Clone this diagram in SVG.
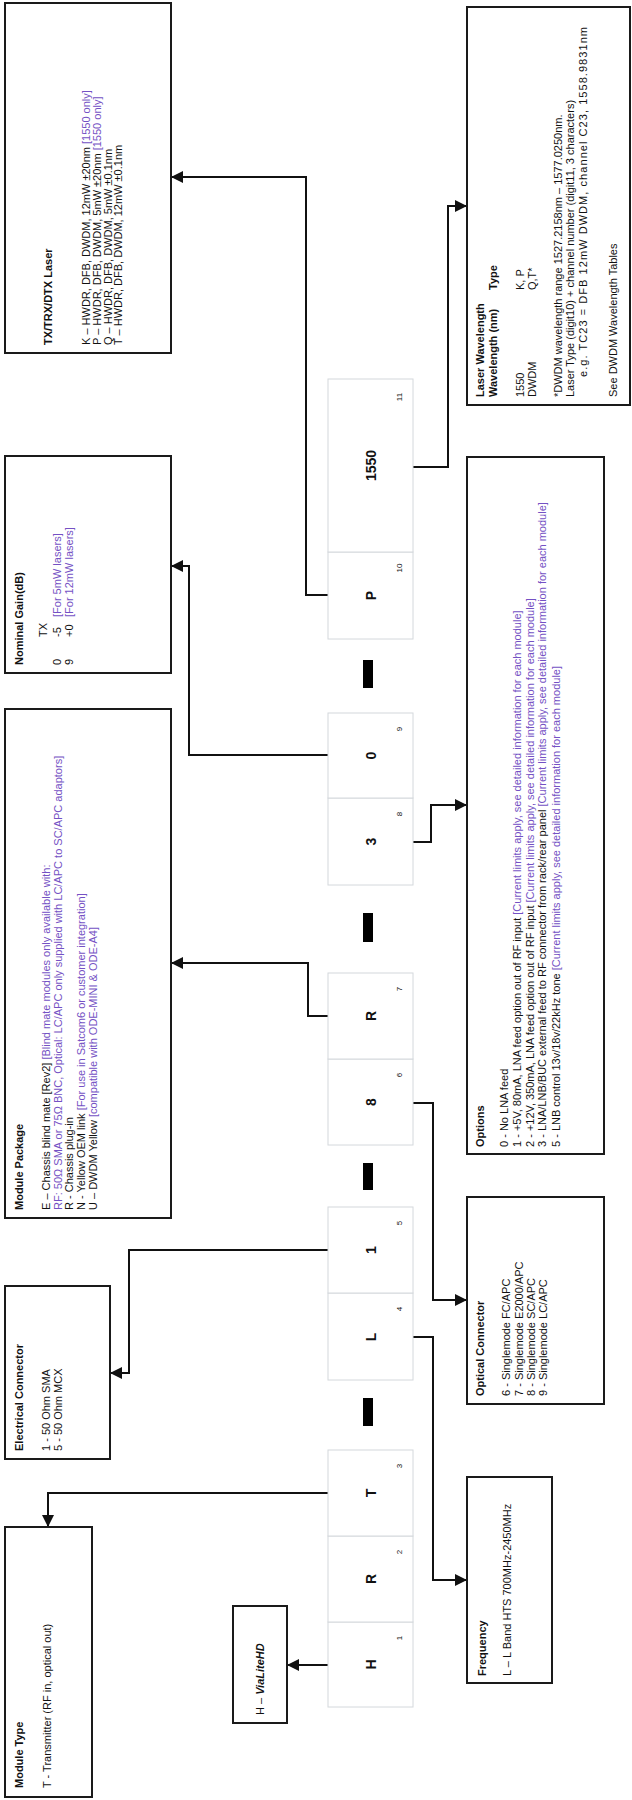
<svg xmlns="http://www.w3.org/2000/svg" width="632" height="1800" viewBox="0 0 632 1800">
<style>
.t{font-family:"Liberation Sans",Arial,sans-serif;font-size:11px;fill:#111}
.b{font-weight:bold}
.p{fill:#7451c4}
.box{fill:#fff;stroke:#1a1a1a;stroke-width:2}
.cb{fill:#fff;stroke:#d4d8dc;stroke-width:1}
.big{font-family:"Liberation Sans",Arial,sans-serif;font-size:14px;font-weight:bold;fill:#111;text-anchor:middle}
.num{font-family:"Liberation Sans",Arial,sans-serif;font-size:8px;fill:#111;text-anchor:middle}
.dash{fill:#000}
.c{fill:none;stroke:#111;stroke-width:2}
</style>
<defs>
<marker id="ah" markerUnits="userSpaceOnUse" markerWidth="12" markerHeight="12" refX="12" refY="6" orient="auto">
<path d="M0,0 L12,6 L0,12 z" fill="#111"/>
</marker>
</defs>
<rect width="632" height="1800" fill="#fff"/>

<g id="connectors">
<polyline class="c" points="328,1665 287,1665" marker-end="url(#ah)"/>
<polyline class="c" points="328,1493 48,1493 48,1527" marker-end="url(#ah)"/>
<polyline class="c" points="413,1337 433,1337 433,1580 467,1580" marker-end="url(#ah)"/>
<polyline class="c" points="328,1250 129,1250 129,1373 110,1373" marker-end="url(#ah)"/>
<polyline class="c" points="413,1103 433,1103 433,1300 467,1300" marker-end="url(#ah)"/>
<polyline class="c" points="328,1016 308,1016 308,963 171,963" marker-end="url(#ah)"/>
<polyline class="c" points="413,842 431,842 431,805 467,805" marker-end="url(#ah)"/>
<polyline class="c" points="328,755 189,755 189,566 171,566" marker-end="url(#ah)"/>
<polyline class="c" points="328,595 306,595 306,177 171,177" marker-end="url(#ah)"/>
<polyline class="c" points="413,467 448,467 448,206 467,206" marker-end="url(#ah)"/>
</g>

<g id="code">
<g id="c1"><rect class="cb" x="328" y="1622" width="85" height="85"/><text class="big" transform="translate(376,1664.5) rotate(-90)">H</text><text class="num" transform="translate(402,1638) rotate(-90)">1</text></g>
<g id="c2"><rect class="cb" x="328" y="1536" width="85" height="86"/><text class="big" transform="translate(376,1579) rotate(-90)">R</text><text class="num" transform="translate(402,1552) rotate(-90)">2</text></g>
<g id="c3"><rect class="cb" x="328" y="1450" width="85" height="86"/><text class="big" transform="translate(376,1493) rotate(-90)">T</text><text class="num" transform="translate(402,1466) rotate(-90)">3</text></g>
<rect class="dash" x="363" y="1398" width="10" height="28"/>
<g id="c4"><rect class="cb" x="328" y="1293" width="85" height="87"/><text class="big" transform="translate(376,1337) rotate(-90)">L</text><text class="num" transform="translate(402,1309) rotate(-90)">4</text></g>
<g id="c5"><rect class="cb" x="328" y="1207" width="85" height="86"/><text class="big" transform="translate(376,1250) rotate(-90)">1</text><text class="num" transform="translate(402,1223) rotate(-90)">5</text></g>
<rect class="dash" x="363" y="1163" width="10" height="27"/>
<g id="c6"><rect class="cb" x="328" y="1059" width="85" height="86"/><text class="big" transform="translate(376,1102) rotate(-90)">8</text><text class="num" transform="translate(402,1075) rotate(-90)">6</text></g>
<g id="c7"><rect class="cb" x="328" y="973" width="85" height="86"/><text class="big" transform="translate(376,1016) rotate(-90)">R</text><text class="num" transform="translate(402,989) rotate(-90)">7</text></g>
<rect class="dash" x="363" y="913" width="10" height="29"/>
<g id="c8"><rect class="cb" x="328" y="798" width="85" height="87"/><text class="big" transform="translate(376,841.5) rotate(-90)">3</text><text class="num" transform="translate(402,814) rotate(-90)">8</text></g>
<g id="c9"><rect class="cb" x="328" y="713" width="85" height="85"/><text class="big" transform="translate(376,755.5) rotate(-90)">0</text><text class="num" transform="translate(402,729) rotate(-90)">9</text></g>
<rect class="dash" x="363" y="660" width="10" height="28"/>
<g id="c10"><rect class="cb" x="328" y="552" width="85" height="87"/><text class="big" transform="translate(376,595.5) rotate(-90)">P</text><text class="num" transform="translate(402,568) rotate(-90)">10</text></g>
<g id="c11"><rect class="cb" x="328" y="379" width="85" height="173"/><text class="big" transform="translate(376,465.5) rotate(-90)">1550</text><text class="num" transform="translate(402,397) rotate(-90)">11</text></g>
</g>

<g id="laser">
<rect class="box" x="5" y="3" width="166" height="350"/>
<text class="t b" transform="translate(52,345) rotate(-90)">TX/TRX/DTX Laser</text>
<text class="t" transform="translate(90,345) rotate(-90)">K – HWDR, DFB, DWDM, 12mW ±20nm <tspan class="p">[1550 only]</tspan></text>
<text class="t" transform="translate(101,345) rotate(-90)">P – HWDR, DFB, DWDM, 5mW ±20nm <tspan class="p">[1550 only]</tspan></text>
<text class="t" transform="translate(111.5,345) rotate(-90)">Q – HWDR, DFB, DWDM, 5mW ±0.1nm</text>
<text class="t" transform="translate(122,345) rotate(-90)">T – HWDR, DFB, DWDM, 12mW ±0.1nm</text>
</g>

<g id="gain">
<rect class="box" x="5" y="456" width="166" height="217"/>
<text class="t b" transform="translate(23,665) rotate(-90)">Nominal Gain(dB)</text>
<text class="t" transform="translate(47,637) rotate(-90)">TX</text>
<text class="t" transform="translate(61,665) rotate(-90)">0</text>
<text class="t" transform="translate(61,637) rotate(-90)">-5</text>
<text class="t p" transform="translate(61,617) rotate(-90)">[For 5mW lasers]</text>
<text class="t" transform="translate(72.5,665) rotate(-90)">9</text>
<text class="t" transform="translate(72.5,637) rotate(-90)">+0</text>
<text class="t p" transform="translate(72.5,617) rotate(-90)">[For 12mW lasers]</text>
</g>

<g id="package">
<rect class="box" x="5" y="709" width="166" height="509"/>
<text class="t b" transform="translate(23,1210) rotate(-90)">Module Package</text>
<text class="t" transform="translate(50,1210) rotate(-90)">E – Chassis blind mate [Rev2] <tspan class="p">[Blind mate modules only available with:</tspan></text>
<text class="t p" transform="translate(61.5,1210) rotate(-90)">RF: 50Ω SMA or 75Ω BNC, Optical: LC/APC only supplied with LC/APC to SC/APC adaptors]</text>
<text class="t" transform="translate(73,1210) rotate(-90)">R - Chassis plug-in</text>
<text class="t" transform="translate(85,1210) rotate(-90)">N - Yellow OEM link <tspan class="p">[For use in Satcom6 or customer integration]</tspan></text>
<text class="t" transform="translate(97,1210) rotate(-90)">U – DWDM Yellow <tspan class="p">[compatible with ODE-MINI &amp; ODE-A4]</tspan></text>
</g>

<g id="electrical">
<rect class="box" x="5" y="1286" width="105" height="173"/>
<text class="t b" transform="translate(23,1451) rotate(-90)">Electrical Connector</text>
<text class="t" transform="translate(50,1451) rotate(-90)">1 - 50 Ohm SMA</text>
<text class="t" transform="translate(62,1451) rotate(-90)">5 - 50 Ohm MCX</text>
</g>

<g id="moduletype">
<rect class="box" x="5" y="1527" width="87" height="270"/>
<text class="t b" transform="translate(23,1788) rotate(-90)">Module Type</text>
<text class="t" transform="translate(51,1788) rotate(-90)">T - Transmitter (RF in, optical out)</text>
</g>

<g id="vialite">
<rect class="box" x="233" y="1606" width="54" height="117"/>
<text class="t" transform="translate(264,1715) rotate(-90)">H – <tspan font-weight="bold" font-style="italic">ViaLiteHD</tspan></text>
</g>

<g id="frequency">
<rect class="box" x="467" y="1477" width="85" height="206"/>
<text class="t b" transform="translate(486,1676) rotate(-90)">Frequency</text>
<text class="t" transform="translate(511,1676) rotate(-90)">L – L Band HTS 700MHz-2450MHz</text>
</g>

<g id="optical">
<rect class="box" x="467" y="1197" width="137" height="207"/>
<text class="t b" transform="translate(484,1396) rotate(-90)">Optical Connector</text>
<text class="t" transform="translate(510,1396) rotate(-90)">6 - Singlemode FC/APC</text>
<text class="t" transform="translate(523,1396) rotate(-90)">7 - Singlemode E2000/APC</text>
<text class="t" transform="translate(535,1396) rotate(-90)">8 - Singlemode SC/APC</text>
<text class="t" transform="translate(547,1396) rotate(-90)">9 - Singlemode LC/APC</text>
</g>

<g id="options">
<rect class="box" x="467" y="457" width="137" height="697"/>
<text class="t b" transform="translate(484,1147) rotate(-90)">Options</text>
<text class="t" transform="translate(508,1147) rotate(-90)">0 - No LNA feed</text>
<text class="t" transform="translate(521,1147) rotate(-90)">1 - +5V, 80mA, LNA feed option out of RF input <tspan class="p">[Current limits apply, see detailed information for each module]</tspan></text>
<text class="t" transform="translate(534,1147) rotate(-90)">2 - +12V, 350mA, LNA feed option out of RF input <tspan class="p">[Current limits apply, see detailed information for each module]</tspan></text>
<text class="t" transform="translate(546,1147) rotate(-90)">3 - LNA/LNB/BUC external feed to RF connector from rack/rear panel <tspan class="p">[Current limits apply, see detailed information for each module]</tspan></text>
<text class="t" transform="translate(560,1147) rotate(-90)">5 - LNB control 13v/18v/22kHz tone <tspan class="p">[Current limits apply, see detailed information for each module]</tspan></text>
</g>

<g id="wavelength">
<rect class="box" x="467" y="7" width="163" height="398"/>
<text class="t b" transform="translate(484,397) rotate(-90)">Laser Wavelength</text>
<text class="t b" transform="translate(497,397) rotate(-90)">Wavelength (nm)</text>
<text class="t b" transform="translate(497,290) rotate(-90)">Type</text>
<text class="t" transform="translate(524,397) rotate(-90)">1550</text>
<text class="t" transform="translate(524,290) rotate(-90)">K, P</text>
<text class="t" transform="translate(536,397) rotate(-90)">DWDM</text>
<text class="t" transform="translate(536,290) rotate(-90)">Q,T*</text>
<text class="t" transform="translate(562,397) rotate(-90)">*DWDM wavelength range 1527.2158nm – 1577.0250nm.</text>
<text class="t" transform="translate(574,397) rotate(-90)">Laser Type (digit10) + channel number (digit11, 3 characters)</text>
<text class="t" transform="translate(587,377) rotate(-90)" textLength="350" lengthAdjust="spacing">e.g. TC23 = DFB 12mW DWDM, channel C23, 1558.9831nm</text>
<text class="t" transform="translate(617,397) rotate(-90)">See DWDM Wavelength Tables</text>
</g>
</svg>
